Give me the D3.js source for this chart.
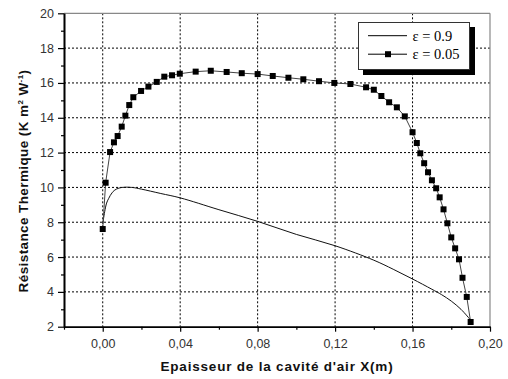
<!DOCTYPE html>
<html><head><meta charset="utf-8">
<script src="https://cdn.jsdelivr.net/npm/d3@7"></script>
<style>body{margin:0;background:#fff}</style>
</head><body>
<svg id="c" width="508" height="379"></svg>
<script>
// ---- data ----
const xHigh = [0, 0.001, 0.002, 0.003, 0.005, 0.007, 0.01, 0.015, 0.02, 0.03, 0.04, 0.06, 0.08, 0.1, 0.12, 0.14, 0.15, 0.16, 0.17, 0.175, 0.18, 0.185, 0.19];
const yHigh = [7.9, 8.6, 9.1, 9.35, 9.72, 9.9, 10.0, 10.0, 9.9, 9.65, 9.4, 8.72, 8.05, 7.3, 6.65, 5.82, 5.3, 4.74, 4.15, 3.84, 3.47, 3.0, 2.38];
const xLow = [0, 0.0015, 0.0038, 0.0058, 0.0077, 0.0098, 0.0117, 0.0137, 0.0158, 0.0198, 0.0236, 0.0279, 0.0318, 0.0358, 0.0398, 0.048, 0.0558, 0.064, 0.0718, 0.080, 0.0878, 0.0959, 0.1036, 0.1117, 0.1196, 0.1279, 0.136, 0.140, 0.1439, 0.1479, 0.1519, 0.156, 0.160, 0.1622, 0.164, 0.166, 0.168, 0.170, 0.1722, 0.174, 0.176, 0.178, 0.180, 0.182, 0.184, 0.1858, 0.188, 0.190];
const yLow = [7.61, 10.27, 12.03, 12.59, 12.95, 13.49, 14.12, 14.73, 15.18, 15.54, 15.79, 16.06, 16.36, 16.44, 16.53, 16.65, 16.70, 16.63, 16.56, 16.51, 16.40, 16.30, 16.21, 16.10, 16.0, 15.94, 15.75, 15.61, 15.25, 14.89, 14.60, 14.08, 13.17, 12.55, 11.96, 11.39, 10.87, 10.41, 9.95, 9.43, 8.74, 7.94, 7.13, 6.50, 5.87, 4.81, 3.71, 2.27];
const xTicks = [0, 0.04, 0.08, 0.12, 0.16, 0.20];
const xTickLabels = ["0,00", "0,04", "0,08", "0,12", "0,16", "0,20"];
const xMinor = [-0.02, 0.02, 0.06, 0.10, 0.14, 0.18];
const yTicks = [2, 4, 6, 8, 10, 12, 14, 16, 18, 20];
const yMinor = [3, 5, 7, 9, 11, 13, 15, 17, 19];
const seriesNames = ["ε = 0.9", "ε = 0.05"];

// ---- layout ----
const L = 64, R = 490, T = 13.3, B = 326.7;
const svg = d3.select("#c");
const x = d3.scaleLinear().domain([-0.02, 0.20]).range([L, R]);
const y = d3.scaleLinear().domain([2, 20]).range([B, T]);

// grid
const g = svg.append("g");
g.selectAll(".vg").data(xTicks.filter(d => d < 0.2)).join("line")
  .attr("x1", d => x(d)).attr("x2", d => x(d)).attr("y1", T).attr("y2", B)
  .attr("stroke", "#000").attr("stroke-width", 1).attr("stroke-dasharray", "2,2");
g.selectAll(".hg").data(yTicks.filter(d => d > 2 && d < 20)).join("line")
  .attr("y1", d => y(d)).attr("y2", d => y(d)).attr("x1", L).attr("x2", R)
  .attr("stroke", "#000").attr("stroke-width", 1).attr("stroke-dasharray", "2,2");

// frame top/right
svg.append("line").attr("x1", L).attr("x2", R).attr("y1", T).attr("y2", T).attr("stroke", "#888").attr("stroke-width", 1.2);
svg.append("line").attr("x1", R).attr("x2", R).attr("y1", T).attr("y2", B).attr("stroke", "#888").attr("stroke-width", 1.2);

// axes
const fnt = "'Liberation Sans', Arial, sans-serif";
const xAxis = svg.append("g").attr("transform", `translate(0,${B})`)
  .call(d3.axisBottom(x).tickValues(xTicks).tickFormat((d, i) => xTickLabels[i]).tickSize(5).tickSizeOuter(0).tickPadding(7));
const xAxisMinor = svg.append("g").attr("transform", `translate(0,${B})`)
  .call(d3.axisBottom(x).tickValues(xMinor).tickFormat("").tickSize(3).tickSizeOuter(0));
const yAxis = svg.append("g").attr("transform", `translate(${L},0)`)
  .call(d3.axisLeft(y).tickValues(yTicks).tickSize(6).tickSizeOuter(0).tickPadding(4));
const yAxisMinor = svg.append("g").attr("transform", `translate(${L},0)`)
  .call(d3.axisLeft(y).tickValues(yMinor).tickFormat("").tickSize(3).tickSizeOuter(0));
[xAxis, xAxisMinor, yAxis, yAxisMinor].forEach(a => {
  a.select(".domain").attr("stroke", "#000").attr("stroke-width", 1.6);
  a.selectAll(".tick line").attr("stroke", "#000").attr("stroke-width", 1.2);
  a.selectAll("text").attr("font-family", fnt).attr("font-size", 12.5).attr("fill", "#333");
});

// lines
const hi = xHigh.map((v, i) => [v, yHigh[i]]);
const lo = xLow.map((v, i) => [v, yLow[i]]);
svg.append("path").attr("d", d3.line().x(d => x(d[0])).y(d => y(d[1])).curve(d3.curveCatmullRom)(hi))
  .attr("fill", "none").attr("stroke", "#111").attr("stroke-width", 1);
svg.append("path").attr("d", d3.line().x(d => x(d[0])).y(d => y(d[1]))(lo))
  .attr("fill", "none").attr("stroke", "#444").attr("stroke-width", 1);
const ms = 6;
svg.selectAll(".sq").data(lo).join("rect")
  .attr("x", d => x(d[0]) - ms / 2).attr("y", d => y(d[1]) - ms / 2)
  .attr("width", ms).attr("height", ms).attr("fill", "#000");

// legend
const lg = svg.append("g");
lg.append("rect").attr("x", 363).attr("y", 27).attr("width", 112).attr("height", 48).attr("fill", "#000");
lg.append("rect").attr("x", 358.5).attr("y", 22.5).attr("width", 111).attr("height", 47).attr("fill", "#fff").attr("stroke", "#333").attr("stroke-width", 1);
const serif = "'Liberation Serif', 'Times New Roman', serif";
[0, 1].forEach(i => {
  const yy = 35.7 + i * 18.5;
  lg.append("line").attr("x1", 368).attr("x2", 407).attr("y1", yy).attr("y2", yy).attr("stroke", "#000").attr("stroke-width", 1);
  if (i === 1) lg.append("rect").attr("x", 388 - ms / 2).attr("y", yy - ms / 2).attr("width", ms).attr("height", ms).attr("fill", "#000");
  lg.append("text").attr("x", 412.5).attr("y", yy + 5).attr("font-family", serif).attr("font-size", 14.5).attr("fill", "#000").text(seriesNames[i]);
});

// axis titles
svg.append("text").attr("x", (L + R) / 2).attr("y", 371).attr("text-anchor", "middle")
  .attr("font-family", fnt).attr("font-weight", "bold").attr("font-size", 13.5).attr("letter-spacing", 0.8).attr("fill", "#111")
  .text("Epaisseur de la cavité d'air X(m)");
const yt = svg.append("text").attr("transform", "translate(28,181) rotate(-90)").attr("text-anchor", "middle")
  .attr("font-family", fnt).attr("font-weight", "bold").attr("font-size", 13.5).attr("letter-spacing", 0.4).attr("fill", "#111");
yt.append("tspan").text("Résistance Thermique (K m");
yt.append("tspan").attr("font-size", 8).attr("dy", -5).text("2");
yt.append("tspan").attr("dy", 5).text(" W");
yt.append("tspan").attr("font-size", 8).attr("dy", -5).text("-1");
yt.append("tspan").attr("dy", 5).text(")");
</script>
</body></html>
